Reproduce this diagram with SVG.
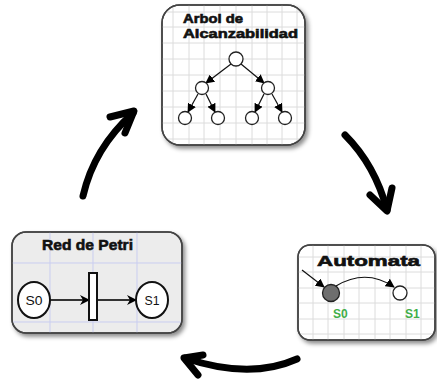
<svg xmlns="http://www.w3.org/2000/svg" width="437" height="379" viewBox="0 0 437 379">
  <style>
    .card { stroke: #444; stroke-width: 1.5; }
    .grid { stroke: #dcdcdc; stroke-width: 1; }
    .gridb { stroke: #c9cdf0; stroke-width: 1; }
    .big { fill: none; stroke: #000; stroke-width: 7; stroke-linecap: round; stroke-linejoin: round; }
    .edge { stroke: #111; stroke-width: 1.2; fill: none; }
    .state { fill: #fff; stroke: #222; stroke-width: 1.3; }
    .title { font-family: "Liberation Sans", Arial, sans-serif; font-weight: bold; fill: #111; stroke: #111; stroke-width: 0.6; }
  </style>
  <defs>
    <filter id="shadow" x="-10%" y="-10%" width="130%" height="130%">
      <feDropShadow dx="2.5" dy="3" stdDeviation="2" flood-color="#000" flood-opacity="0.45"/>
    </filter>
    <marker id="tip" viewBox="0 0 10 10" refX="9" refY="5" markerWidth="9" markerHeight="9" markerUnits="userSpaceOnUse" orient="auto">
      <path d="M0,0 L10,5 L0,10 z" fill="#000"/>
    </marker>
    <marker id="barb" viewBox="0 0 10 10" refX="9" refY="5" markerWidth="10" markerHeight="10" markerUnits="userSpaceOnUse" orient="auto">
      <path d="M0,0 L10,5 L0,10 L3,5 z" fill="#000"/>
    </marker>
    <clipPath id="clipTop"><rect x="162" y="5" width="143" height="140" rx="18"/></clipPath>
    <clipPath id="clipLeft"><rect x="12" y="232" width="170" height="101" rx="14"/></clipPath>
    <clipPath id="clipRight"><rect x="298" y="245" width="137" height="95" rx="12"/></clipPath>
  </defs>

  <!-- Reachability tree card -->
  <g id="arbol">
    <rect class="card" x="162" y="5" width="143" height="140" rx="18" fill="#fff" filter="url(#shadow)"/>
    <g clip-path="url(#clipTop)">
      <g class="grid">
        <path d="M173,5V145M189,5V145M204,5V145M220,5V145M236,5V145M252,5V145M267,5V145M282,5V145M297,5V145"/>
        <path d="M162,12H305M162,27H305M162,43H305M162,59H305M162,75H305M162,91H305M162,107H305M162,123H305M162,139H305"/>
      </g>
    </g>
    <rect class="card" x="162" y="5" width="143" height="140" rx="18" fill="none"/>
    <text class="title" x="183" y="23" font-size="12.5" textLength="60" lengthAdjust="spacingAndGlyphs">Arbol de</text>
    <text class="title" x="183" y="38" font-size="12.5" textLength="115" lengthAdjust="spacingAndGlyphs">Alcanzabilidad</text>
    <g class="edge">
      <line x1="231" y1="64" x2="206" y2="83" marker-end="url(#tip)"/>
      <line x1="241" y1="64" x2="264" y2="83" marker-end="url(#tip)"/>
      <line x1="198" y1="94" x2="188" y2="112" marker-end="url(#tip)"/>
      <line x1="206" y1="94" x2="215" y2="112" marker-end="url(#tip)"/>
      <line x1="264" y1="94" x2="255" y2="112" marker-end="url(#tip)"/>
      <line x1="272" y1="94" x2="282" y2="112" marker-end="url(#tip)"/>
    </g>
    <circle class="state" cx="236" cy="59" r="7"/>
    <circle class="state" cx="202" cy="88" r="6.5"/>
    <circle class="state" cx="268" cy="88" r="6.5"/>
    <circle class="state" cx="185" cy="118" r="6.5"/>
    <circle class="state" cx="218" cy="118" r="6.5"/>
    <circle class="state" cx="252" cy="118" r="6.5"/>
    <circle class="state" cx="285" cy="118" r="6.5"/>
  </g>

  <!-- Petri net card -->
  <g id="petri">
    <rect class="card" x="12" y="232" width="170" height="101" rx="14" fill="#ececec" filter="url(#shadow)"/>
    <g clip-path="url(#clipLeft)" class="gridb">
      <path d="M50,232V333M93,232V333M137,232V333M12,263H182M12,322H182"/>
    </g>
    <rect class="card" x="12" y="232" width="170" height="101" rx="14" fill="none"/>
    <text class="title" x="42" y="250" font-size="15" textLength="91" lengthAdjust="spacingAndGlyphs">Red de Petri</text>
    <g stroke="#333" stroke-width="2" fill="none">
      <line x1="50" y1="300" x2="89" y2="300" marker-end="url(#barb)"/>
      <line x1="97" y1="300" x2="136" y2="300" marker-end="url(#barb)"/>
    </g>
    <ellipse cx="34" cy="300" rx="16" ry="18" fill="#fff" stroke="#111" stroke-width="2"/>
    <ellipse cx="152" cy="300" rx="16" ry="18" fill="#fff" stroke="#111" stroke-width="2"/>
    <rect x="89" y="273" width="8" height="47" fill="#fff" stroke="#111" stroke-width="2"/>
    <text x="34" y="305" font-family="Liberation Sans, Arial, sans-serif" font-size="13" text-anchor="middle" fill="#111" textLength="17" lengthAdjust="spacingAndGlyphs">S0</text>
    <text x="152" y="305" font-family="Liberation Sans, Arial, sans-serif" font-size="13" text-anchor="middle" fill="#111" textLength="15" lengthAdjust="spacingAndGlyphs">S1</text>
  </g>

  <!-- Automaton card -->
  <g id="automata">
    <rect class="card" x="298" y="245" width="137" height="95" rx="12" fill="#fff" filter="url(#shadow)"/>
    <g clip-path="url(#clipRight)" class="grid">
      <path d="M313,245V340M328,245V340M344,245V340M359,245V340M375,245V340M390,245V340M406,245V340M421,245V340"/>
      <path d="M298,257H435M298,272H435M298,288H435M298,303H435M298,319H435M298,334H435"/>
    </g>
    <rect class="card" x="298" y="245" width="137" height="95" rx="12" fill="none"/>
    <text class="title" x="317" y="266" font-size="14.5" textLength="103" lengthAdjust="spacingAndGlyphs">Automata</text>
    <g class="edge">
      <line x1="302" y1="270" x2="324" y2="287" marker-end="url(#tip)"/>
      <path d="M336,286 Q366,268 394,287" marker-end="url(#tip)"/>
    </g>
    <circle cx="331" cy="293" r="8.5" fill="#6e6e6e" stroke="#222" stroke-width="1.3"/>
    <circle class="state" cx="400" cy="293" r="7"/>
    <text x="333" y="318" font-family="Liberation Sans, Arial, sans-serif" font-weight="bold" font-size="12" fill="#3fae49">S0</text>
    <text x="405" y="318" font-family="Liberation Sans, Arial, sans-serif" font-weight="bold" font-size="12" fill="#3fae49">S1</text>
  </g>

  <!-- Cycle arrows between the cards -->
  <g id="connectors">
    <path class="big" d="M83,196 Q94,148 133,113"/>
    <path class="big" d="M110,117 L134,111 L125,133"/>
    <path class="big" d="M345,135 Q375,165 387,210"/>
    <path class="big" d="M370,195 L387,211 L392,188"/>
    <path class="big" d="M297,359 Q250,380 185,358"/>
    <path class="big" d="M203,355 L184,358 L198,375"/>
  </g>
</svg>
